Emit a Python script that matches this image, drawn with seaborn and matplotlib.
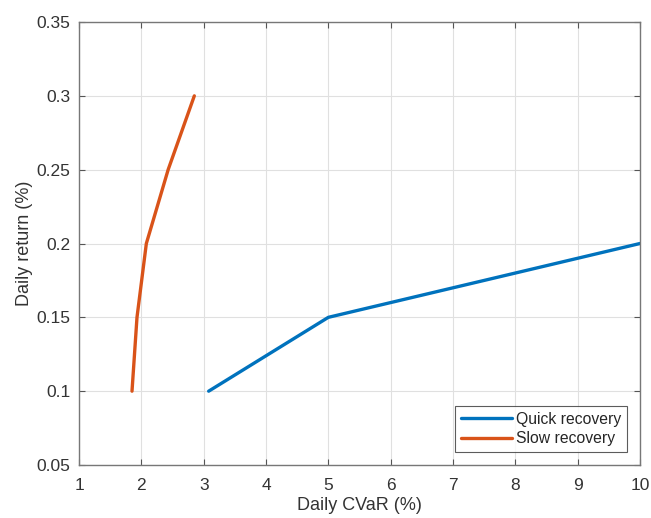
import numpy as np
import pandas as pd
import matplotlib
matplotlib.use("Agg")
import matplotlib.pyplot as plt
import seaborn as sns

# values
quick_cvar = [3.08, 5.0, 6.0, 7.0, 8.0, 9.0, 10.0]
quick_return = [0.10, 0.15, 0.16, 0.17, 0.18, 0.19, 0.20]
slow_cvar = [1.85, 1.93, 2.08, 2.43, 2.85]
slow_return = [0.10, 0.15, 0.20, 0.25, 0.30]

x_ticks = [1, 2, 3, 4, 5, 6, 7, 8, 9, 10]
y_ticks = [0.05, 0.1, 0.15, 0.2, 0.25, 0.3, 0.35]
y_ticklabels = ["0.05", "0.1", "0.15", "0.2", "0.25", "0.3", "0.35"]

df = pd.concat([
    pd.DataFrame({"cvar": quick_cvar, "ret": quick_return, "series": "Quick recovery"}),
    pd.DataFrame({"cvar": slow_cvar, "ret": slow_return, "series": "Slow recovery"}),
])

sns.set_style("white")
plt.rcParams["font.family"] = ["Liberation Sans", "DejaVu Sans"]

fig = plt.figure(figsize=(6.51, 5.18), dpi=100)
ax = fig.add_axes([0.1214, 0.1023, 0.8616, 0.8552])

sns.lineplot(
    data=df, x="cvar", y="ret", hue="series", sort=False, estimator=None,
    palette={"Quick recovery": "#0072BD", "Slow recovery": "#D95319"},
    linewidth=2.4, ax=ax,
)

ax.set_xlim(1, 10)
ax.set_ylim(0.05, 0.35)
ax.set_xticks(x_ticks)
ax.set_yticks(y_ticks)
ax.set_yticklabels(y_ticklabels)
ax.grid(True, color="#e0e0e0", linewidth=0.8)
ax.tick_params(direction="in", length=4, color="#555555", labelsize=12.5,
               labelcolor="#333333", top=True, right=True, left=True, bottom=True,
               labeltop=False, labelright=False)
ax.tick_params(axis="x", pad=9)
ax.tick_params(axis="y", pad=6)
for s in ax.spines.values():
    s.set_color("#777777")
    s.set_linewidth(1.0)

ax.set_xlabel("Daily CVaR (%)", fontsize=13, color="#333333", labelpad=3)
ax.set_ylabel("Daily return (%)", fontsize=13, color="#333333", labelpad=3)

leg = ax.legend(loc="lower right", fontsize=11.3, frameon=True, fancybox=False,
                edgecolor="#333333", handlelength=3.25, handletextpad=0.3,
                borderpad=0.35, labelspacing=0.3, borderaxespad=0,
                bbox_to_anchor=(0.977, 0.03))
leg.get_frame().set_linewidth(0.8)
leg.set_title(None)

fig.savefig("out.png", dpi=100)
